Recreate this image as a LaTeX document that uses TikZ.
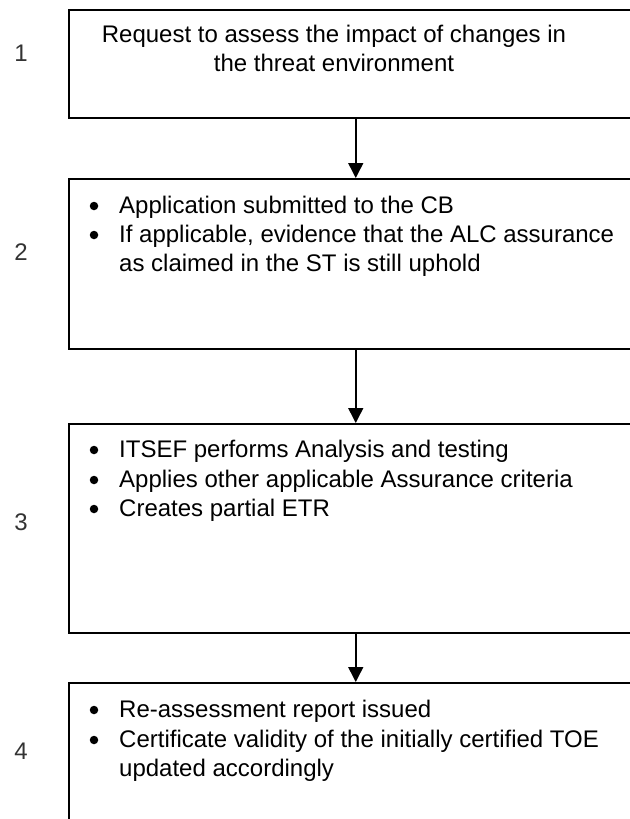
\documentclass[tikz,border=0pt]{standalone}
\usepackage{fontspec}
\setmainfont{Liberation Sans}
\usetikzlibrary{arrows.meta}
\newcommand\bodyfont{\fontsize{24}{29.5}\selectfont}
\begin{document}
\begin{tikzpicture}[x=1pt,y=-1pt,
  box/.style={draw, line width=1.5pt, minimum width=574pt, anchor=north west, inner sep=0pt},
  txt/.style={anchor=base west, inner sep=0pt, font=\bodyfont},
  ctxt/.style={anchor=base, inner sep=0pt, font=\bodyfont},
  lbl/.style={anchor=center, inner sep=0pt, font=\bodyfont, text=black!80},
  bul/.style={circle, fill=black, inner sep=0pt, minimum size=8.5pt},
  arr/.style={-{Triangle[width=15pt,length=15pt]}, line width=1.5pt}]
\useasboundingbox (0,0) rectangle (629,819);
% boxes
\node[box, minimum height=108pt] (b1) at (68,9) {};
\node[box, minimum height=170pt] (b2) at (68,178) {};
\node[box, minimum height=209pt] (b3) at (68,423) {};
\node[box, minimum height=170pt] (b4) at (68,682) {};
% arrows
\draw[arr] (b1.south) -- (b2.north);
\draw[arr] (b2.south) -- (b3.north);
\draw[arr] (b3.south) -- (b4.north);
% step labels
\node[lbl] (l1) at (21,53) {1};
\node[lbl] (l2) at (21,252) {2};
\node[lbl] (l3) at (21,522) {3};
\node[lbl] (l4) at (21,751) {4};
% box 1
\node[ctxt] (t11) at (334,42) {Request to assess the impact of changes in};
\node[ctxt] (t12) at (334,71) {the threat environment};
% box 2
\node[bul] (p21) at (94,206) {};
\node[txt] (t21) at (119,213) {Application submitted to the CB};
\node[bul] (p22) at (94,235) {};
\node[txt] (t22) at (119,242) {If applicable, evidence that the ALC assurance};
\node[txt] (t23) at (119,271) {as claimed in the ST is still uphold};
% box 3
\node[bul] (p31) at (94,450) {};
\node[txt] (t31) at (119,457) {ITSEF performs Analysis and testing};
\node[bul] (p32) at (94,480) {};
\node[txt] (t32) at (119,487) {Applies other applicable Assurance criteria};
\node[bul] (p33) at (94,509) {};
\node[txt] (t33) at (119,516) {Creates partial ETR};
% box 4
\node[bul] (p41) at (94,710) {};
\node[txt] (t41) at (119,717) {Re-assessment report issued};
\node[bul] (p42) at (94,740) {};
\node[txt] (t42) at (119,747) {Certificate validity of the initially certified TOE};
\node[txt] (t43) at (119,776) {updated accordingly};
\end{tikzpicture}
\end{document}
